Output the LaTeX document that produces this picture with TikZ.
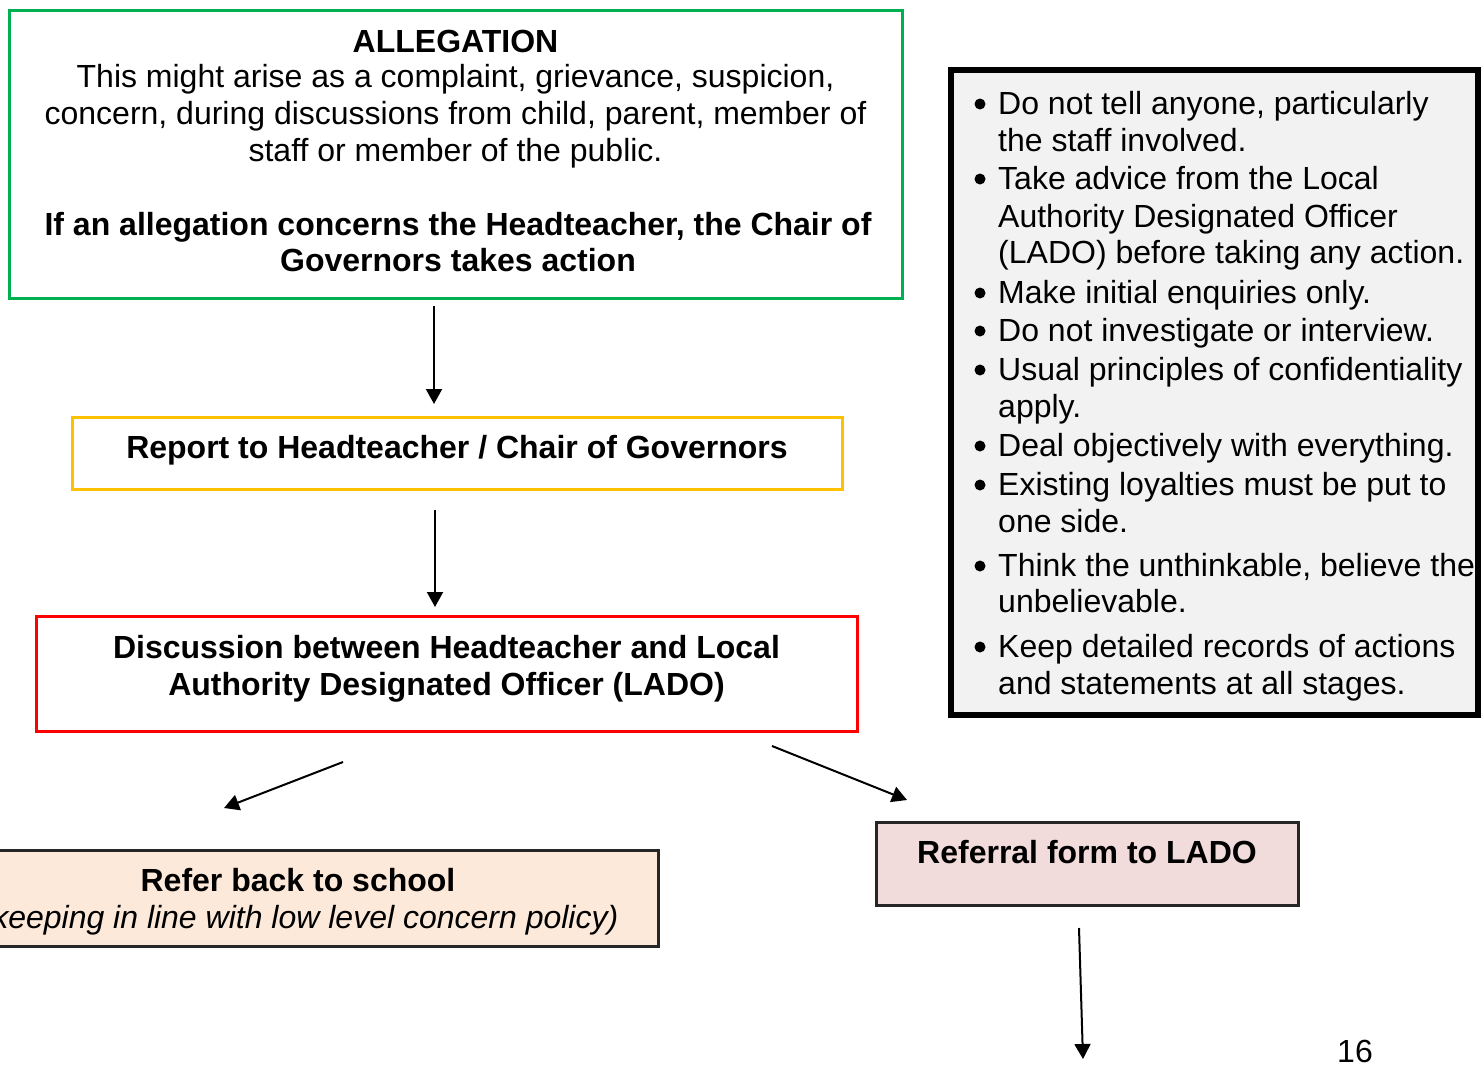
\documentclass[tikz,border=0pt]{standalone}
\usepackage{fontspec}
\setmainfont{Liberation Sans}
\usetikzlibrary{arrows.meta}
\definecolor{bxgreen}{RGB}{0,176,80}
\definecolor{bxyellow}{RGB}{255,192,0}
\definecolor{bxred}{RGB}{255,0,0}
\definecolor{peach}{RGB}{253,233,217}
\definecolor{rosefill}{RGB}{242,220,219}
\definecolor{greyfill}{RGB}{242,242,242}
\tikzset{
  box/.style={draw, rectangle, line width=3pt, outer sep=0pt, inner sep=0pt},
  txt/.style={font=\fontsize{32}{37}\selectfont, inner sep=0pt, anchor=base},
  ltxt/.style={font=\fontsize{32}{37}\selectfont, inner sep=0pt, anchor=base west},
  bulletdot/.style={circle, fill=black, minimum size=11pt, inner sep=0pt},
  arr/.style={line width=2pt, -{Triangle[length=15pt,width=16pt]}},
}
\begin{document}
\begin{tikzpicture}[x=1pt,y=-1pt]
\useasboundingbox (0,0) rectangle (1483,1068);
% boxes
\node[box, draw=bxgreen, minimum width=893pt, minimum height=288pt] (allegbox) at (455.5,154) {};
\node[box, draw=bxyellow, minimum width=770pt, minimum height=72pt] (reportbox) at (457,453) {};
\node[box, draw=bxred, minimum width=821pt, minimum height=115pt] (discbox) at (446.5,673.5) {};
\node[box, draw=black!85, fill=peach, minimum width=720pt, minimum height=96pt] (referbox) at (298,898) {};
\node[box, draw=black!85, fill=rosefill, minimum width=422pt, minimum height=83pt] (ladobox) at (1087,863.5) {};
\node[box, draw=black, line width=5.5pt, fill=greyfill, minimum width=527pt, minimum height=645pt] (pointsbox) at (1214.5,392.5) {};
% texts in the allegation box
\node[txt] (a1) at (455.5,52) {\bfseries ALLEGATION};
\node[txt] (a2) at (455.5,87) {This might arise as a complaint, grievance, suspicion,};
\node[txt] (a3) at (455.5,124) {concern, during discussions from child, parent, member of};
\node[txt] (a4) at (455.5,161) {staff or member of the public.};
\node[txt] (a5) at (458,235) {\bfseries If an allegation concerns the Headteacher, the Chair of};
\node[txt] (a6) at (458,271) {\bfseries Governors takes action};
\node[txt] (r1) at (457,458) {\bfseries Report to Headteacher / Chair of Governors};
\node[txt] (d1) at (446.5,658) {\bfseries Discussion between Headteacher and Local};
\node[txt] (d2) at (446.5,695) {\bfseries Authority Designated Officer (LADO)};
\node[txt] (s1) at (298,891) {\bfseries Refer back to school};
\node[txt] (s2) at (300,928) {\itshape (keeping in line with low level concern policy)};
\node[txt] (l1) at (1087,863) {\bfseries Referral form to LADO};
\node[txt] (pg) at (1355,1062) {16};
% bullet list
\foreach \y/\b/\t [count=\i] in {
 114/1/{Do not tell anyone, particularly},
 151/0/{the staff involved.},
 189/1/{Take advice from the Local},
 227/0/{Authority Designated Officer},
 263/0/{(LADO) before taking any action.},
 303/1/{Make initial enquiries only.},
 341/1/{Do not investigate or interview.},
 380/1/{Usual principles of confidentiality},
 417/0/{apply.},
 456/1/{Deal objectively with everything.},
 495/1/{Existing loyalties must be put to},
 532/0/{one side.},
 576/1/{Think the unthinkable, believe the},
 612/0/{unbelievable.},
 657/1/{Keep detailed records of actions},
 694/0/{and statements at all stages.}}{
  \node[ltxt] (p\i) at (998,\y) {\t};
  \ifnum\b=1 \node[bulletdot] (b\i) at (980,\y-10) {};\fi
}
% connectors
\draw[arr] ([shift={(-21.5,8)}]allegbox.south) -- ([shift={(-23,-13)}]reportbox.north);
\draw[arr] ([shift={(-22,21)}]reportbox.south) -- ([shift={(-11.5,-9)}]discbox.north);
\draw[arr] ([shift={(307,31)}]discbox.south west) -- ([shift={(-74,-42)}]referbox.north);
\draw[arr] ([shift={(-85,15)}]discbox.south east) -- ([shift={(31,-22)}]ladobox.north west);
\coordinate (nextstep) at (1083,1059);
\draw[arr] ([shift={(-8,23)}]ladobox.south) -- (nextstep);
\end{tikzpicture}
\end{document}
